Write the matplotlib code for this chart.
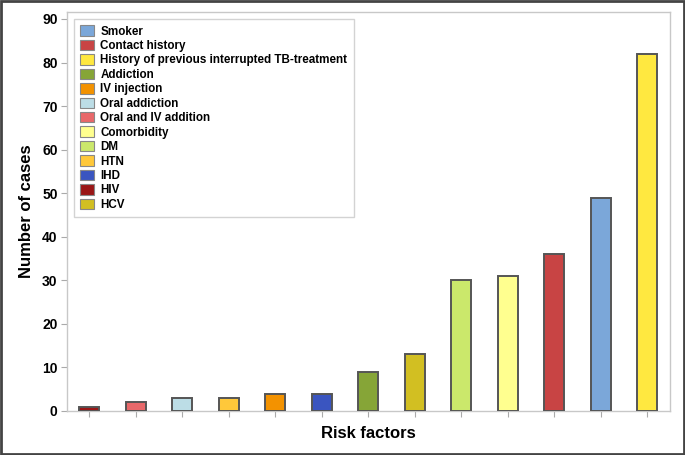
import matplotlib
matplotlib.use("Agg")
import matplotlib.pyplot as plt
from matplotlib.patches import Patch

plt.rcParams['font.family'] = ['Liberation Sans', 'DejaVu Sans']

# bar order (left to right)
bar_labels = ["HIV", "Oral and IV addition", "Oral addiction", "HTN", "IV injection", "IHD",
              "Addiction", "HCV", "DM", "Comorbidity", "Contact history", "Smoker",
              "History of previous interrupted TB-treatment"]
bar_values = [1, 2, 3, 3, 4, 4, 9, 13, 30, 31, 36, 49, 82]

# legend order
legend_labels = ["Smoker", "Contact history", "History of previous interrupted TB-treatment",
                 "Addiction", "IV injection", "Oral addiction", "Oral and IV addition",
                 "Comorbidity", "DM", "HTN", "IHD", "HIV", "HCV"]

colors = {
    "Smoker": "#7BA7D9",
    "Contact history": "#C84444",
    "History of previous interrupted TB-treatment": "#FFE840",
    "Addiction": "#86A537",
    "IV injection": "#F39200",
    "Oral addiction": "#BCDDE6",
    "Oral and IV addition": "#E8686A",
    "Comorbidity": "#FFFF8F",
    "DM": "#CBE86B",
    "HTN": "#FFC83A",
    "IHD": "#3A55C0",
    "HIV": "#9A1616",
    "HCV": "#D2BF22",
}

y_ticks = [0, 10, 20, 30, 40, 50, 60, 70, 80, 90]

fig = plt.figure(figsize=(6.85, 4.55), dpi=100)
ax = fig.add_axes([66.7/685, 1 - 411/455, (670-66.7)/685, (411-12)/455])

x = list(range(len(bar_labels)))
ax.bar(x, bar_values, width=0.43, color=[colors[l] for l in bar_labels],
       edgecolor="#555555", linewidth=1.4, zorder=3)

ax.set_xlim(-0.49, 12.49)
ax.set_ylim(0, 91.6)
ax.set_xticks(x)
ax.set_xticklabels([])
ax.set_yticks(y_ticks)
ax.set_yticklabels([str(t) for t in y_ticks], fontsize=10, fontweight='bold')
ax.tick_params(axis='both', direction='out', color='#AAAAAA', length=4, width=0.8)
ax.tick_params(axis='y', pad=2.5)
for s in ax.spines.values():
    s.set_color('#C8C8C8')
    s.set_linewidth(1.0)

ax.set_xlabel("Risk factors", fontsize=12, fontweight='bold', labelpad=3)
ax.set_ylabel("Number of cases", fontsize=12, fontweight='bold', labelpad=6)

handles = [Patch(facecolor=colors[l], edgecolor='#888888', linewidth=0.8) for l in legend_labels]
leg = ax.legend(handles, legend_labels, loc='upper left', bbox_to_anchor=(0.0115, 0.9825),
                borderaxespad=0,
                prop={'size': 8.4, 'weight': 'bold'}, frameon=True, fancybox=False,
                edgecolor='#C8C8C8', handlelength=1.2, handleheight=1.0,
                labelspacing=0.19, borderpad=0.55, handletextpad=0.55)
leg.get_frame().set_linewidth(1.0)

# outer figure border
fig.patches.append(plt.Rectangle((0.002, 0.003), 0.996, 0.994, transform=fig.transFigure,
                                 fill=False, edgecolor='#444444', linewidth=2))

fig.savefig("out.png", dpi=100)
